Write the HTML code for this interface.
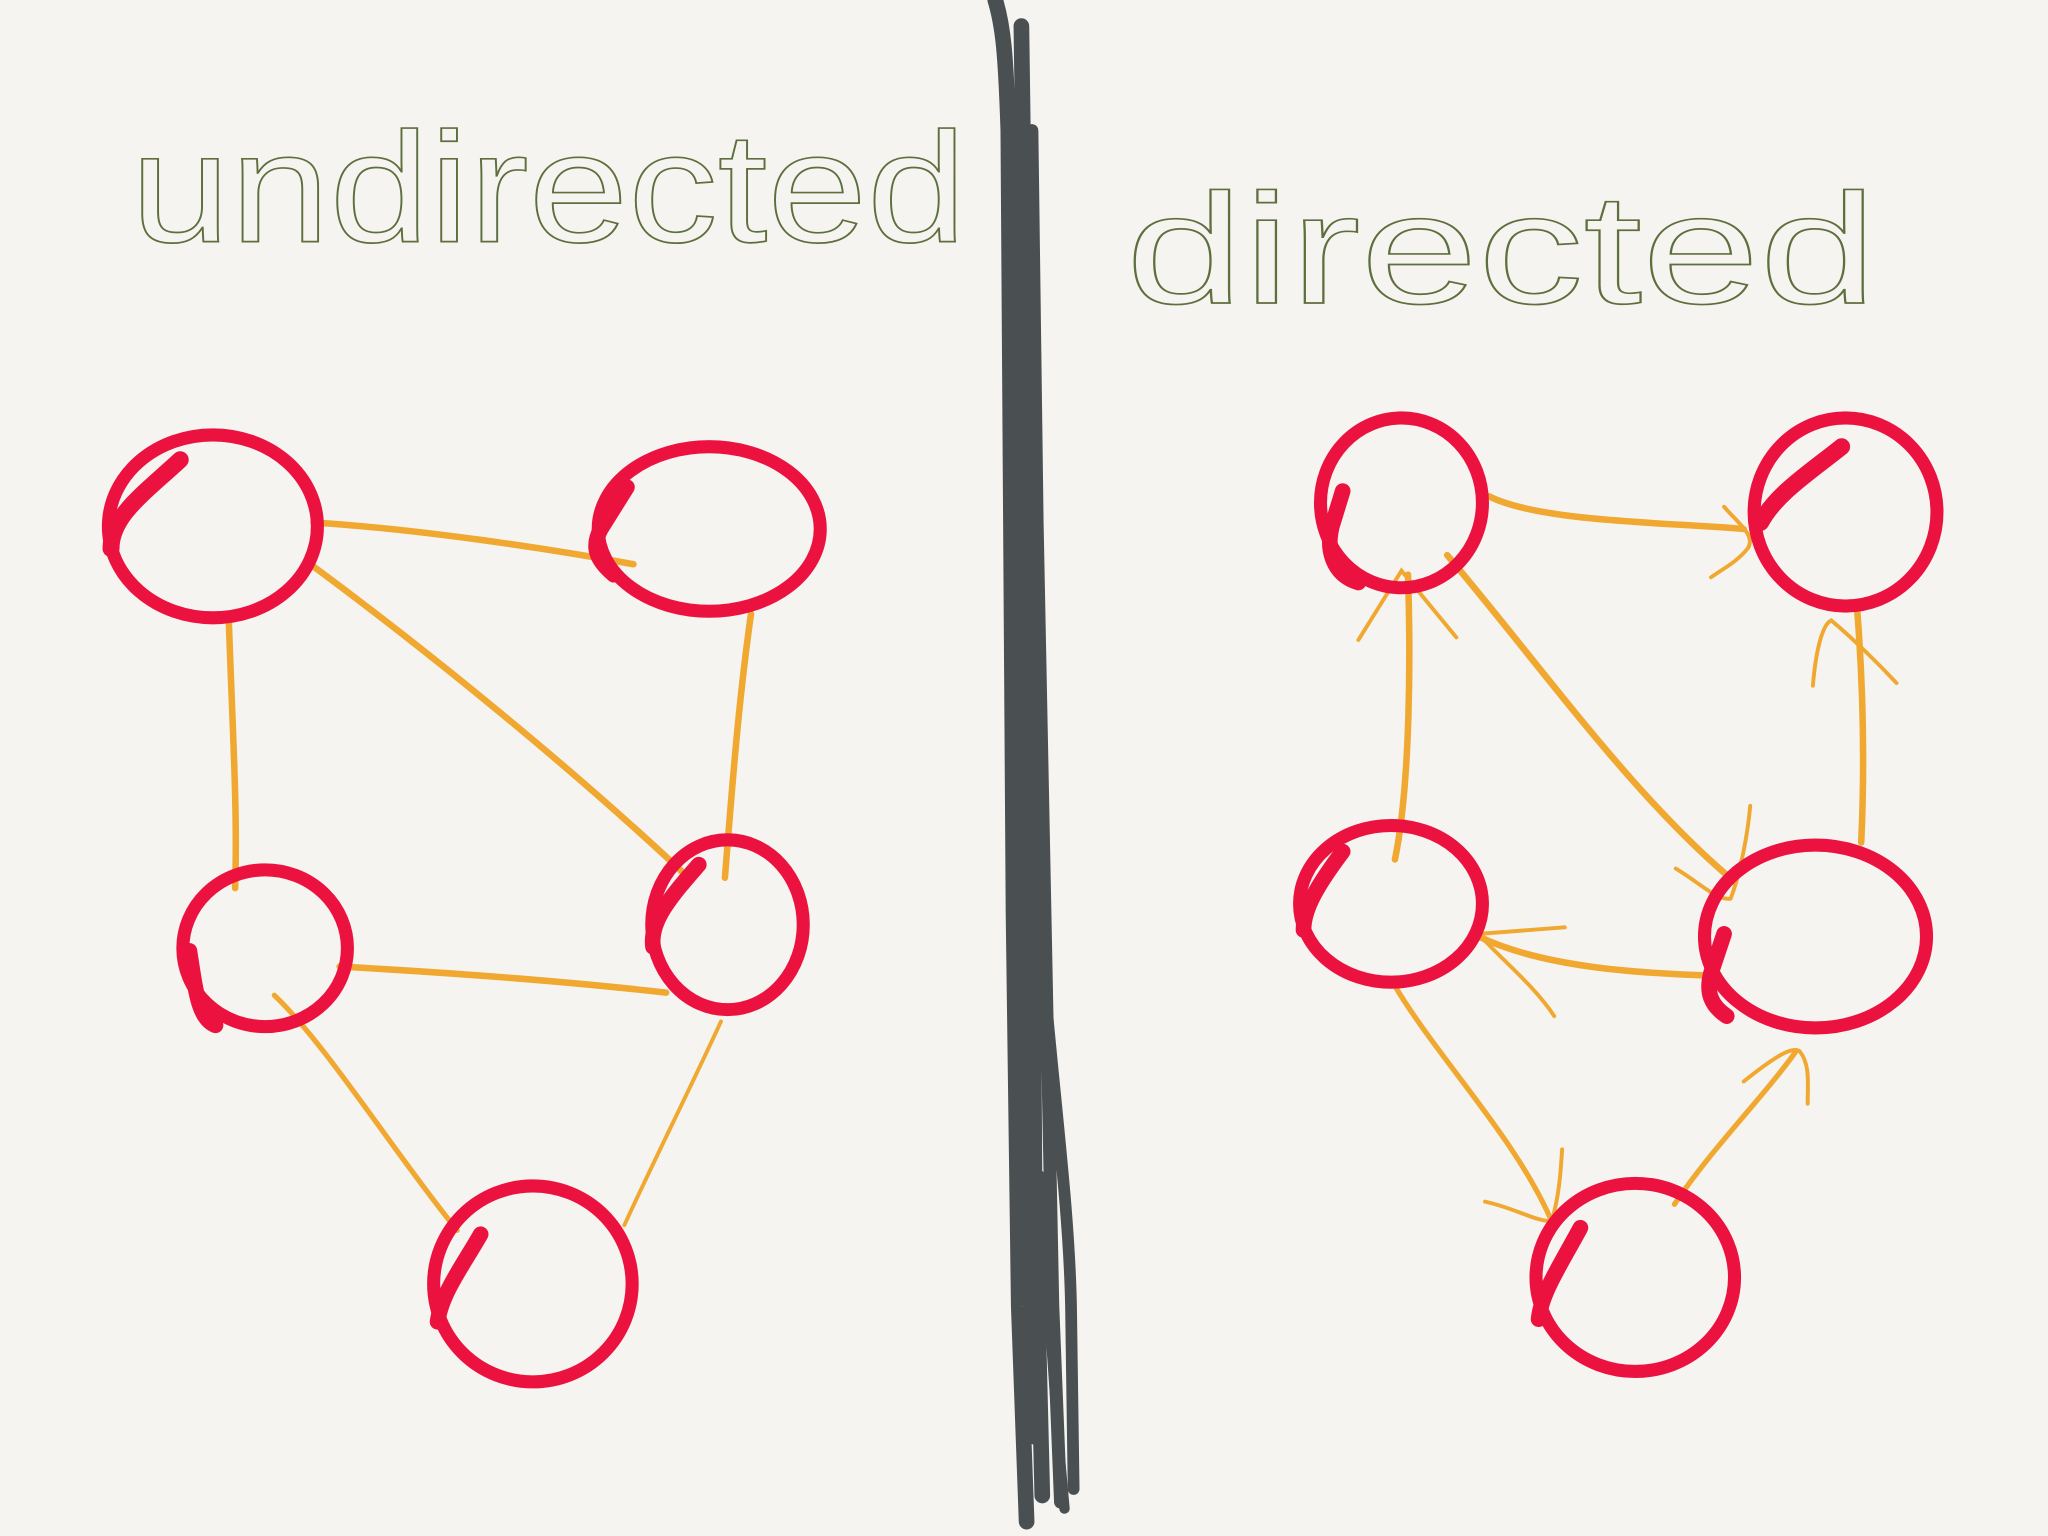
<!DOCTYPE html>
<html><head><meta charset="utf-8"><style>
html,body{margin:0;padding:0;background:#f5f4f0;}
svg{display:block;}
</style></head><body>
<svg width="2048" height="1536" viewBox="0 0 1568 1176" xmlns="http://www.w3.org/2000/svg">
<rect width="1568" height="1176" fill="#f5f4f0"/>
<g font-family="Liberation Sans, sans-serif" font-size="120" fill="none" stroke="#5e6e3c" stroke-width="1.3">
<text x="100" y="185" textLength="640" lengthAdjust="spacingAndGlyphs">undirected</text>
<text x="862" y="232" textLength="575" lengthAdjust="spacingAndGlyphs">directed</text>
</g>
<!-- divider -->
<g stroke="#4a5051" stroke-linecap="round" fill="none">
<path d="M762 0 C768 20 770 40 772 100 L774 400 L776 700 L780 1000 L786 1165" stroke-width="12"/>
<path d="M782 20 C786 200 788 400 790 600 L792 900 L798 1145" stroke-width="12"/>
<path d="M776 200 L780 500 L786 800 L792 1100" stroke-width="12"/>
<path d="M790 100 L794 400 L800 700 L806 1000 L812 1150" stroke-width="10"/>
<path d="M788 600 C800 800 818 900 820 1000 L822 1140" stroke-width="9"/>
<path d="M796 900 L810 1100 L815 1155" stroke-width="8"/>
</g>
<!-- edges -->
<g stroke="#f0a830" fill="none" stroke-linecap="round" stroke-width="5">
<path d="M240 400 C320 405 420 420 485 432"/>
<path d="M235 430 C330 500 440 590 525 670"/>
<path d="M175 470 C178 560 182 620 180 680"/>
<path d="M575 470 C565 540 560 610 555 672"/>
<path d="M260 740 C350 745 440 752 510 760"/>
<path d="M210 762 C250 800 300 880 350 942" stroke-width="4"/>
<path d="M552 782 C530 830 500 890 478 938" stroke-width="3"/>

<path d="M1140 380 C1180 400 1280 400 1335 405"/>
<path d="M1320 388 C1330 400 1345 410 1338 420 C1330 430 1320 435 1310 442" stroke-width="3"/>
<path d="M1068 658 C1080 600 1080 500 1078 440"/>
<path d="M1040 490 L1073 437 L1115 488" stroke-width="3"/>
<path d="M1108 425 C1180 510 1250 610 1328 675"/>
<path d="M1283 665 C1300 675 1315 690 1325 688 C1332 670 1338 640 1340 617" stroke-width="3"/>
<path d="M1425 645 C1428 580 1426 520 1422 468"/>
<path d="M1388 525 C1390 500 1395 478 1402 475 C1420 490 1440 510 1452 523" stroke-width="3"/>
<path d="M1310 747 C1250 745 1180 740 1132 717"/>
<path d="M1198 710 L1132 715 C1150 735 1175 755 1190 778" stroke-width="3"/>
<path d="M1065 750 C1100 810 1160 870 1188 935" stroke-width="4"/>
<path d="M1137 920 C1160 925 1175 935 1188 935 C1194 915 1195 895 1196 880" stroke-width="3"/>
<path d="M1282 922 C1310 880 1350 840 1375 805" stroke-width="4"/>
<path d="M1335 828 C1355 812 1372 800 1378 805 C1386 815 1384 830 1384 845" stroke-width="3"/>
</g>
<!-- nodes -->
<g stroke="#ec1240" fill="none" stroke-width="10" stroke-linecap="round">
<ellipse cx="163" cy="403" rx="80" ry="70"/>
<path d="M138 352 C110 378 85 395 85 420" stroke-width="13"/>
<ellipse cx="543" cy="405" rx="85" ry="63"/>
<path d="M480 373 L460 405 C452 420 458 430 470 440" stroke-width="12"/>
<ellipse cx="203" cy="726" rx="63" ry="60"/>
<path d="M145 728 C150 760 152 780 165 785" stroke-width="12"/>
<ellipse cx="557" cy="708" rx="58" ry="65"/>
<path d="M535 662 C515 685 497 705 500 725" stroke-width="12"/>
<ellipse cx="408" cy="983" rx="76" ry="75"/>
<path d="M368 945 C355 968 338 990 335 1012" stroke-width="12"/>

<ellipse cx="1073" cy="385" rx="62" ry="65"/>
<path d="M1028 376 L1020 402 C1015 420 1020 440 1040 446" stroke-width="12"/>
<ellipse cx="1413" cy="392" rx="70" ry="72"/>
<path d="M1410 342 C1385 362 1360 378 1348 400" stroke-width="13"/>
<ellipse cx="1065" cy="692" rx="70" ry="60"/>
<path d="M1028 652 C1010 676 998 695 998 712" stroke-width="12"/>
<ellipse cx="1390" cy="717" rx="85" ry="70"/>
<path d="M1320 715 L1310 745 C1306 760 1310 770 1322 778" stroke-width="12"/>
<ellipse cx="1252" cy="978" rx="76" ry="72"/>
<path d="M1210 940 C1195 968 1180 990 1178 1010" stroke-width="12"/>
</g>
</svg>
</body></html>
